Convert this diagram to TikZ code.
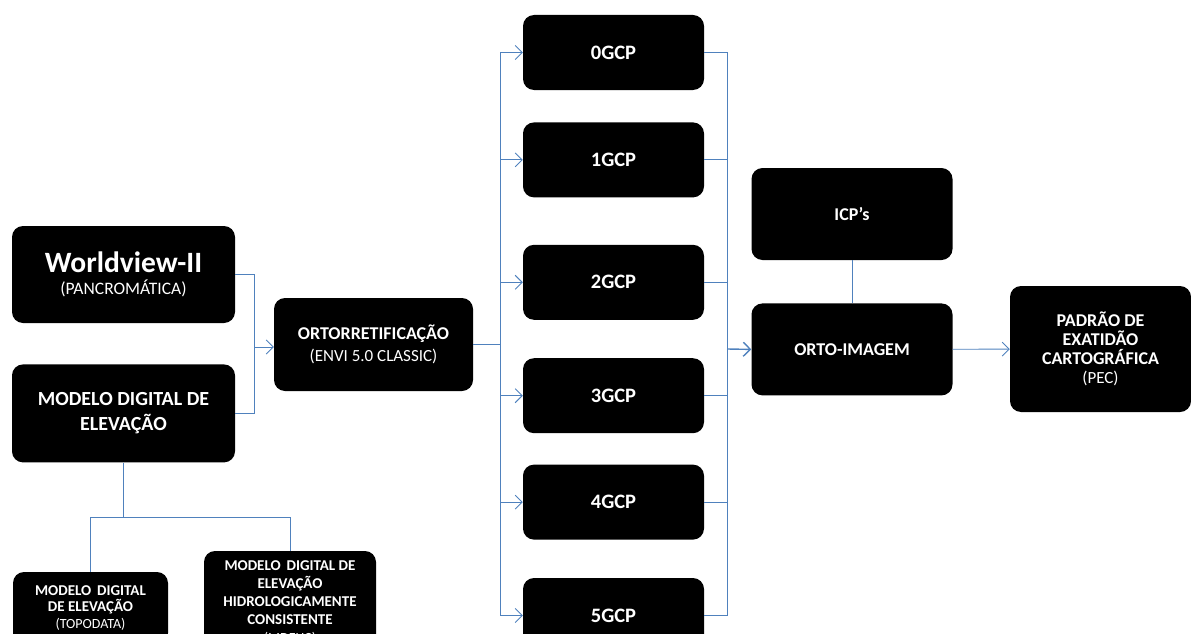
\documentclass[tikz,border=0pt]{standalone}
\usepackage{fontspec}
\setmainfont{Carlito}
\usetikzlibrary{positioning}
\usetikzlibrary{arrows.meta}
\definecolor{linkblue}{RGB}{79,129,189}

\begin{document}
\begin{tikzpicture}[x=1pt, y=-1pt,
  block/.style = {shape=rectangle, rounded corners=11pt, fill=black, text=white, align=center, inner sep=0pt},
  gcpbox/.style = {block, minimum width=181pt, minimum height=75pt, font=\fontsize{20.5}{24}\selectfont\bfseries},
  link/.style = {draw=linkblue, line width=0.9pt},
  >={Straight Barb[length=7pt,width=14pt]}]
  \useasboundingbox (0,0) rectangle (1191,634);
  \clip (0,0) rectangle (1191,634);

  % sources
  \node (wv) [block, minimum width=223pt, minimum height=97pt, font=\fontsize{29.5}{22}\selectfont\bfseries] at (123.5,274.5)
    {Worldview-II\\ \fontsize{17.5}{22}\selectfont\mdseries (PANCROMÁTICA)};
  \node (mde) [block, minimum width=223pt, minimum height=98pt, below=41pt of wv,
    font=\fontsize{20}{25}\selectfont\bfseries] {MODELO DIGITAL DE\\ELEVAÇÃO};
  \node (topo) [block, minimum width=155pt, minimum height=72pt, font=\fontsize{15}{16.5}\selectfont\bfseries] at (90.5,608)
    {MODELO\, DIGITAL\\ DE ELEVAÇÃO\\ \fontsize{14}{16.5}\selectfont\mdseries (TOPODATA)};
  \node (hid) [block, minimum width=172pt, minimum height=104pt, font=\fontsize{15}{18}\selectfont\bfseries] at (290,603)
    {MODELO\, DIGITAL DE\\ ELEVAÇÃO\\ HIDROLOGICAMENTE\\ CONSISTENTE\\ \fontsize{14}{18}\selectfont\mdseries (MDEHC)};

  \node (orto) [block, minimum width=199pt, minimum height=93pt, font=\fontsize{18}{22}\selectfont\bfseries] at (373.5,344.5)
    {ORTORRETIFICAÇÃO\\ \fontsize{17}{22}\selectfont\mdseries (ENVI 5.0 CLASSIC)};

  % GCP column
  \node (g0) [gcpbox] at (613.5,52.5) {0GCP};
  \node (g1) [gcpbox, below=32pt of g0] {1GCP};
  \node (g2) [gcpbox, below=47pt of g1] {2GCP};
  \node (g3) [gcpbox, below=38pt of g2] {3GCP};
  \node (g4) [gcpbox, below=31pt of g3] {4GCP};
  \node (g5) [gcpbox, below=38pt of g4] {5GCP};

  \node (icp) [block, minimum width=201pt, minimum height=92pt, font=\fontsize{18}{22}\selectfont\bfseries] at (852,214) {ICP’s};
  \node (oimg) [block, minimum width=201pt, minimum height=92pt, below=43pt of icp,
    font=\fontsize{18}{22}\selectfont\bfseries] {ORTO-IMAGEM};
  \node (pec) [block, minimum width=181pt, minimum height=126pt, font=\fontsize{18}{19}\selectfont\bfseries] at (1100.5,349)
    {PADRÃO DE\\ EXATIDÃO\\ CARTOGRÁFICA\\ \fontsize{17}{19}\selectfont\mdseries (PEC)};

  \coordinate (join) at (254,347);
  \coordinate (fanl) at (500,344.5);
  \coordinate (fanr) at (727,349);
  \coordinate (split) at (123.5,517);

  % connectors
  \draw [link] (wv.east) -| (join);
  \draw [link] (mde.east) -| (join);
  \draw [link, ->] (join) -- (orto.west |- join);
  \draw [link] (mde.south) -- (split);
  \draw [link] (split) -| (topo.north);
  \draw [link] (split) -| (hid.north);
  \draw [link] (orto.east |- fanl) -- (fanl);
  \draw [link, ->] (fanl) |- (g0.west);
  \draw [link, ->] (fanl) |- (g1.west);
  \draw [link, ->] (fanl) |- (g2.west);
  \draw [link, ->] (fanl) |- (g3.west);
  \draw [link, ->] (fanl) |- (g4.west);
  \draw [link, ->] (fanl) |- (g5.west);
  \draw [link] (g0.east) -| (fanr);
  \draw [link] (g1.east) -| (fanr);
  \draw [link] (g2.east) -| (fanr);
  \draw [link] (g3.east) -| (fanr);
  \draw [link] (g4.east) -| (fanr);
  \draw [link] (g5.east) -| (fanr);
  \draw [link, line width=1.4pt, ->] (fanr) -- (oimg.west);
  \draw [link] (icp) -- (oimg);
  \draw [link, ->] (oimg) -- (pec);
\end{tikzpicture}
\end{document}
